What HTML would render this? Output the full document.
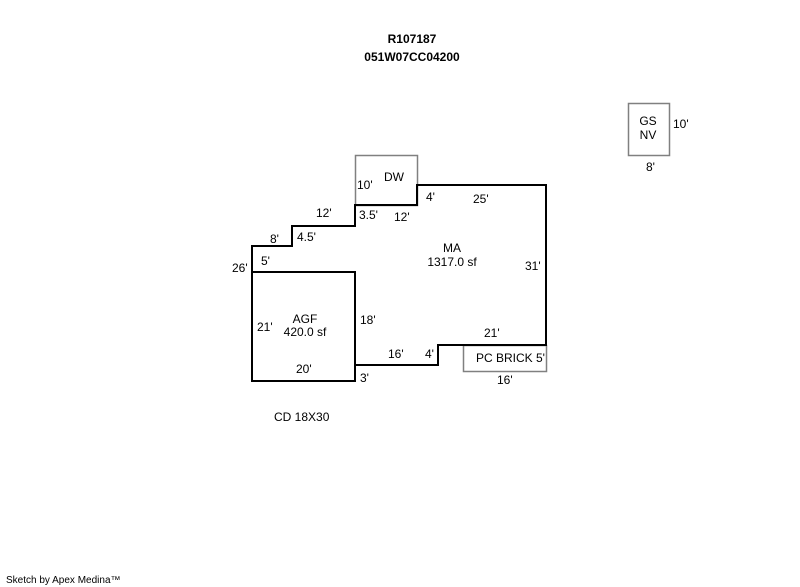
<!DOCTYPE html>
<html><head><style>
html,body{margin:0;padding:0;background:#fff;width:800px;height:587px;overflow:hidden}
svg text{font-family:"Liberation Sans",Arial,sans-serif;font-size:12px;fill:#000}
</style></head><body>
<svg width="800" height="587" xmlns="http://www.w3.org/2000/svg">
<text x="412" y="43" text-anchor="middle" font-weight="bold" style="font-size:12px">R107187</text>
<text x="412" y="61" text-anchor="middle" font-weight="bold" style="font-size:12px">051W07CC04200</text>
<rect x="355.5" y="155.5" width="62" height="50" fill="none" stroke="#808080" stroke-width="1.5"/>
<rect x="463.5" y="345.5" width="83" height="26" fill="none" stroke="#808080" stroke-width="1.5"/>
<rect x="628.5" y="103.5" width="41" height="52" fill="none" stroke="#808080" stroke-width="1.5"/>
<polygon points="252,246 292,246 292,226 355,226 355,205 417,205 417,185 546,185 546,345 438,345 438,365 355,365 355,381 252,381" fill="none" stroke="#000" stroke-width="2"/>
<rect x="252" y="272" width="103" height="109" fill="none" stroke="#000" stroke-width="2"/>
<text x="384" y="181">DW</text>
<text x="357" y="189">10'</text>
<text x="426" y="201">4'</text>
<text x="473" y="203">25'</text>
<text x="316" y="217">12'</text>
<text x="359" y="219">3.5'</text>
<text x="394" y="221">12'</text>
<text x="270" y="243">8'</text>
<text x="297" y="241">4.5'</text>
<text x="452" y="252" text-anchor="middle">MA</text>
<text x="452" y="266" text-anchor="middle">1317.0 sf</text>
<text x="232" y="272">26'</text>
<text x="261" y="265">5'</text>
<text x="525" y="270">31'</text>
<text x="305" y="323" text-anchor="middle">AGF</text>
<text x="305" y="336" text-anchor="middle">420.0 sf</text>
<text x="257" y="331">21'</text>
<text x="360" y="324">18'</text>
<text x="484" y="337">21'</text>
<text x="388" y="358">16'</text>
<text x="425" y="358">4'</text>
<text x="476" y="362">PC BRICK 5'</text>
<text x="296" y="373">20'</text>
<text x="360" y="382">3'</text>
<text x="497" y="384">16'</text>
<text x="648" y="125" text-anchor="middle">GS</text>
<text x="648" y="139" text-anchor="middle">NV</text>
<text x="673" y="128">10'</text>
<text x="646" y="171">8'</text>
<text x="274" y="421">CD 18X30</text>
<text x="6" y="583" style="font-size:10px">Sketch by Apex Medina™</text>
</svg>
</body></html>
